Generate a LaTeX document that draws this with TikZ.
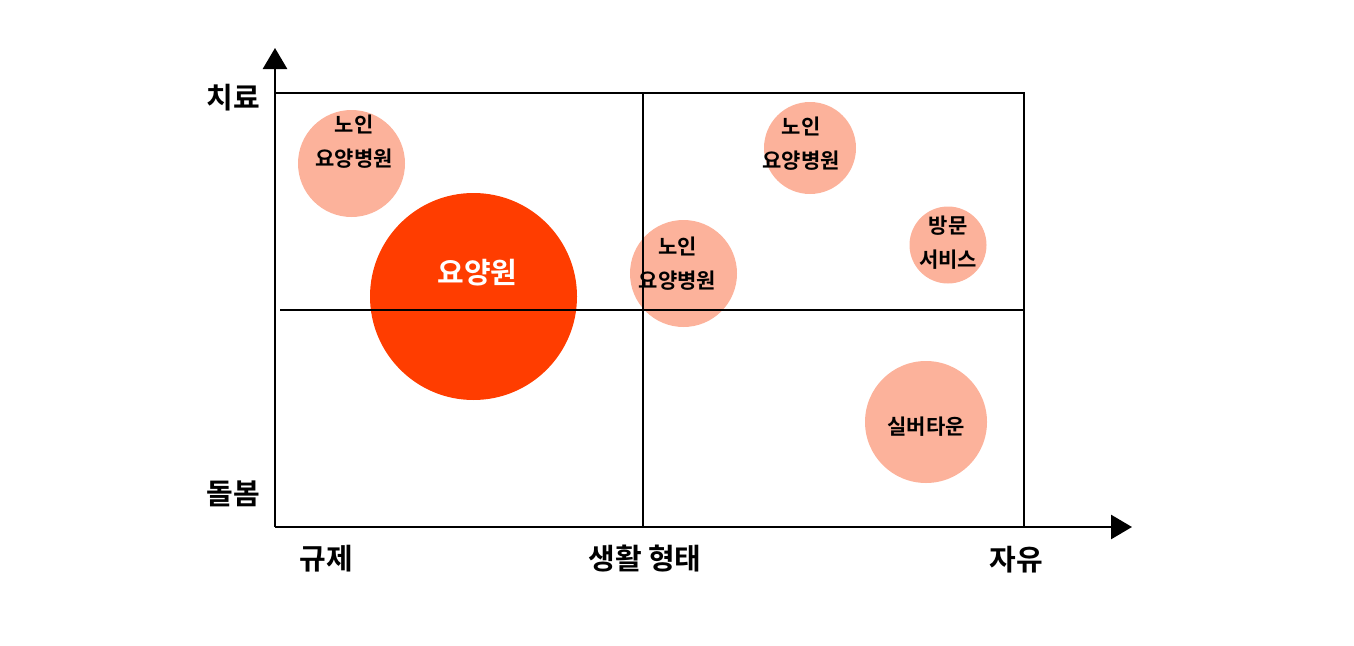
\documentclass[tikz,border=0pt]{standalone}
\usepackage{fontspec}
\setmainfont{Noto Sans CJK KR Bold}
\usetikzlibrary{arrows.meta}
\definecolor{bubblelight}{HTML}{FCB29B}
\definecolor{bigred}{HTML}{FF3D00}

\begin{document}
\begin{tikzpicture}[x=1pt,y=-1pt,
    bubble/.style={shape=circle, fill=bubblelight, inner sep=0pt},
    txt/.style={font=\fontsize{21}{34}\selectfont, align=center, inner sep=0pt},
    axislabel/.style={font=\fontsize{29}{32}\selectfont, inner sep=0pt}]
    \useasboundingbox (0,0) rectangle (1354,645);

    % bubbles
    \foreach \n/\x/\y/\r in {a/351.5/163.5/53.5, b/683.5/273.5/53.5, c/810/148/46, d/948/245/38.5, e/926/422/61}
        \node[bubble, minimum size=2*\r] (\n) at (\x,\y) {};
    \node[bubble, fill=bigred, minimum size=207] (big) at (473.5,296.5) {};

    % frame and axes
    \coordinate (o) at (275,527);
    \coordinate (ytip) at (275,48);
    \coordinate (xtip) at (1132,527);
    \coordinate (tl) at (275,93);
    \coordinate (tr) at (1024,93);
    \coordinate (br) at (1024,527);
    \coordinate (mt) at (643,93);
    \coordinate (mb) at (643,527);
    \coordinate (ml) at (280,310);
    \coordinate (mr) at (1024,310);
    \draw [draw=black,line width=2.8pt] (tl) -- (tr) -- (br);
    \draw [draw=black,line width=2.8pt] (mt) -- (mb);
    \draw [draw=black,line width=2.8pt] (ml) -- (mr);
    \draw [draw=black,line width=2.8pt,-{Triangle[length=21pt,width=24pt]}] (o) -- (ytip);
    \draw [draw=black,line width=2.8pt,-{Triangle[length=21pt,width=24pt]}] (o) -- (xtip);

    % bubble texts
    \node[txt] (ta) at (354,142) {노인\\요양병원};
    \node[txt] (tb) at (677.5,263.5) {노인\\요양병원};
    \node[txt] (tc) at (801,143.5) {노인\\요양병원};
    \node[txt] (td) at (948,243) {방문\\서비스};
    \node[txt] (te) at (926,427) {실버타운};
    \node[axislabel, text=white] (tbig) at (477.5,273) {요양원};

    % axis labels
    \node[axislabel] (cure) at (233.5,97.5) {치료};
    \node[axislabel] (care) at (233.5,494) {돌봄};
    \node[axislabel] (rule) at (326.5,559) {규제};
    \node[axislabel] (life) at (645,559) {생활 형태};
    \node[axislabel] (free) at (1016.5,560) {자유};
\end{tikzpicture}
\end{document}
